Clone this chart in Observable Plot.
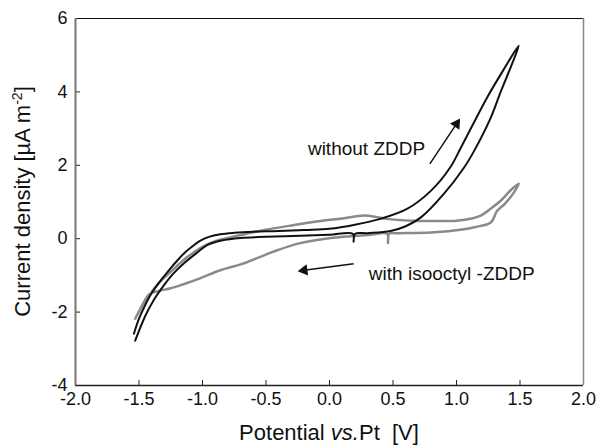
<!DOCTYPE html>
<html><head><meta charset="utf-8">
<script src="https://cdn.jsdelivr.net/npm/d3@7"></script>
<script src="https://cdn.jsdelivr.net/npm/@observablehq/plot@0.6"></script>
<style>body{margin:0;background:#fff} #chart{width:597px;height:445px}</style>
</head><body><div id="chart"></div>
<script>
// Potential vs. Pt [V] and current density [µA m^-2]
const blackV = [-1.54,-1.50,-1.45,-1.40,-1.33,-1.26,-1.20,-1.14,-1.08,-1.02,-0.95,-0.86,-0.75,-0.60,-0.40,-0.20,0.00,0.20,0.40,0.61,0.80,0.95,1.03,1.12,1.25,1.37,1.49,
  1.43,1.35,1.27,1.14,1.06,0.90,0.72,0.60,0.48,0.30,0.20,0.19,0.185,0.00,-0.23,-0.50,-0.70,-0.85,-0.96,-1.05,-1.15,-1.23,-1.30,-1.38,-1.45,-1.53];
const blackI = [-2.59,-2.18,-1.80,-1.48,-1.14,-0.84,-0.60,-0.38,-0.21,-0.06,0.05,0.12,0.16,0.19,0.21,0.24,0.27,0.38,0.54,0.81,1.31,1.94,2.45,3.05,3.90,4.60,5.26,
  4.70,4.02,3.30,2.40,1.94,1.22,0.58,0.34,0.21,0.15,0.13,-0.08,0.13,0.11,0.08,0.05,0.02,-0.05,-0.17,-0.40,-0.68,-0.95,-1.25,-1.65,-2.10,-2.78];
const grayV = [-1.53,-1.47,-1.40,-1.35,-1.25,-1.12,-1.00,-0.91,-0.80,-0.70,-0.54,-0.30,-0.07,0.10,0.27,0.36,0.45,0.66,0.85,1.00,1.12,1.19,1.27,1.35,1.42,1.49,
  1.45,1.38,1.32,1.27,1.15,1.06,0.80,0.53,0.47,0.46,0.455,0.30,0.01,-0.23,-0.40,-0.52,-0.70,-0.86,-1.02,-1.15,-1.25,-1.35,-1.42,-1.48,-1.53];
const grayI = [-2.18,-1.80,-1.45,-1.23,-0.90,-0.50,-0.22,-0.08,0.02,0.10,0.22,0.36,0.48,0.55,0.63,0.60,0.54,0.49,0.48,0.49,0.55,0.63,0.82,1.04,1.30,1.50,
  1.25,0.95,0.76,0.44,0.32,0.26,0.17,0.15,0.14,-0.12,0.13,0.10,0.02,-0.12,-0.30,-0.46,-0.70,-0.86,-1.08,-1.24,-1.35,-1.43,-1.52,-1.85,-2.18];

const xTicks = [-2.0,-1.5,-1.0,-0.5,0.0,0.5,1.0,1.5,2.0];
const xTickLabels = ["-2.0","-1.5","-1.0","-0.5","0.0","0.5","1.0","1.5","2.0"];
const yTicks = [-4,-2,0,2,4,6];
const yTickLabels = ["-4","-2","0","2","4","6"];

const annotText = ["without ZDDP","with isooctyl -ZDDP"];
const annotV = [-0.17, 0.31];
const annotI = [2.45, -0.95];
const arrowV1 = [0.79, 0.19], arrowI1 = [2.04, -0.68];
const arrowV2 = [1.00, -0.20], arrowI2 = [3.13, -0.86];

const W = 597, H = 445, mL = 75, mR = 14, mT = 18, mB = 60;
const pw = W - mL - mR, ph = H - mT - mB;
const pxPerV = pw / 4, pxPerI = ph / 10;

const black = blackV.map((v,i)=>({v, c: blackI[i]}));
const gray = grayV.map((v,i)=>({v, c: grayI[i]}));
const annots = annotText.map((t,i)=>({t, v: annotV[i], c: annotI[i]}));
const arrows = arrowV1.map((v,i)=>({
  x1: v, y1: arrowI1[i], x2: arrowV2[i], y2: arrowI2[i],
  angle: Math.atan2((arrowV2[i]-v)*pxPerV, (arrowI2[i]-arrowI1[i])*pxPerI) * 180 / Math.PI
}));

const chart = Plot.plot({
  width: W, height: H,
  marginLeft: mL, marginRight: mR, marginTop: mT, marginBottom: mB,
  style: {fontFamily: "'Liberation Sans', Arial, sans-serif", fontSize: "18px", background: "#fff", color: "#111"},
  x: {domain: [-2, 2]},
  y: {domain: [-4, 6]},
  marks: [
    Plot.line(gray, {x: "v", y: "c", stroke: "#8a8a8a", strokeWidth: 2.5, curve: "catmull-rom"}),
    Plot.line(black, {x: "v", y: "c", stroke: "#111", strokeWidth: 2, curve: "catmull-rom"}),
    Plot.text(annots, {x: "v", y: "c", text: "t", textAnchor: "start", fontSize: 19, fill: "#111"}),
    Plot.link(arrows, {x1: "x1", y1: "y1", x2: "x2", y2: "y2", stroke: "#111", strokeWidth: 1.5}),
    Plot.dot(arrows, {x: "x2", y: "y2", symbol: "triangle", r: 4.2, rotate: "angle", fill: "#111", stroke: null}),
    Plot.tickX(xTicks.slice(1, -1), {x: d => d, insetTop: ph - 5, stroke: "#222"}),
    Plot.tickY(yTicks.slice(1, -1), {y: d => d, insetRight: pw - 5, stroke: "#222"}),
    Plot.ruleY([6], {stroke: "#111", strokeWidth: 1}),
    Plot.ruleY([-4], {stroke: "#222", strokeWidth: 1.5}),
    Plot.ruleX([2], {stroke: "#888", strokeWidth: 1.5}),
    Plot.ruleX([-2], {stroke: "#777", strokeWidth: 2}),
    Plot.axisX(xTicks, {tickSize: 0, tickPadding: 7, fontSize: 18, label: null, tickFormat: d => xTickLabels[xTicks.indexOf(d)]}),
    Plot.axisY(yTicks, {tickSize: 0, tickPadding: 8, fontSize: 18, label: null, tickFormat: d => yTickLabels[yTicks.indexOf(d)]})
  ]
});
document.getElementById("chart").appendChild(chart);

const svg = d3.select(chart);
const xt = svg.append("text")
  .attr("x", mL + pw / 2).attr("y", 440)
  .attr("text-anchor", "middle").attr("font-size", 22).attr("fill", "#111");
xt.append("tspan").text("Potential ");
xt.append("tspan").attr("font-style", "italic").text("vs.");
xt.append("tspan").text("Pt\u00a0\u00a0[V]");

const yt = svg.append("text")
  .attr("transform", `translate(30,${mT + ph / 2}) rotate(-90)`)
  .attr("text-anchor", "middle").attr("font-size", 22).attr("fill", "#111");
yt.append("tspan").text("Current density [µA m");
yt.append("tspan").attr("font-size", 14).attr("dy", -8).text("-2");
yt.append("tspan").attr("dy", 8).text("]");
</script>
</body></html>
